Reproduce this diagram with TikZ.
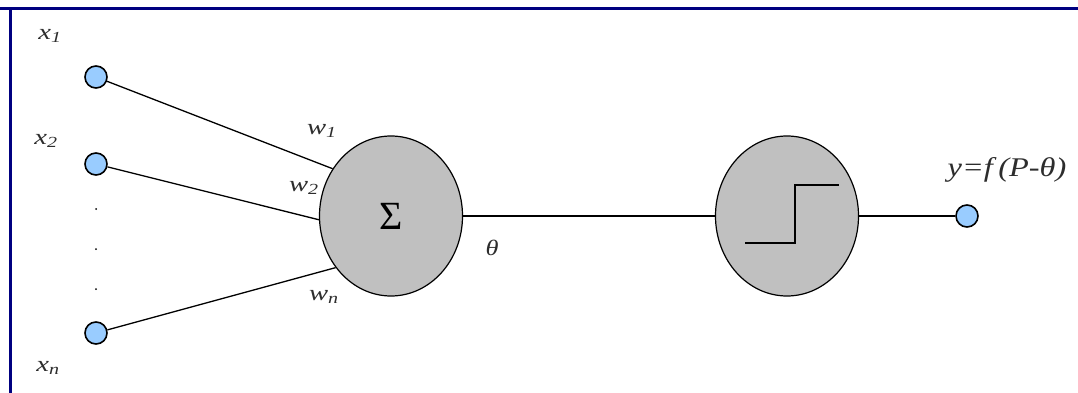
\documentclass[tikz,border=0pt]{standalone}
\usepackage{fontspec}
\setmainfont{Liberation Serif}
\usepackage{graphicx}
\usetikzlibrary{shapes.geometric}

\definecolor{frameblue}{RGB}{0,0,128}
\definecolor{inblue}{RGB}{153,204,255}
\definecolor{cellgray}{RGB}{192,192,192}
\definecolor{labgray}{RGB}{45,45,45}

\newcommand{\wlab}[2]{\scalebox{1.3}[1]{\textit{#1}\textsubscript{\textit{#2}}}}

\begin{document}
\begin{tikzpicture}[x=1pt,y=-1pt,
        inpt/.style={circle, draw, line width=1.6pt, fill=inblue, minimum size=22pt, inner sep=0pt},
        cell/.style={ellipse, draw, line width=1.2pt, fill=cellgray, minimum width=143pt, minimum height=160pt, inner sep=0pt},
        lbl/.style={text=labgray, inner sep=0pt, font=\fontsize{22}{22}\selectfont}]
        \useasboundingbox (0,0) rectangle (1078,393);

        % frame
        \fill[frameblue] (0,7) rectangle (1078,10);
        \fill[frameblue] (9,7) rectangle (11.5,393);

        % inputs
        \node[inpt] (x1) at (96,77) {};
        \node[inpt] (x2) at (96,164) {};
        \node[inpt] (xn) at (96,333) {};
        \fill (96,209) circle (1pt);
        \fill (96,249) circle (1pt);
        \fill (96,289) circle (1pt);

        \node[lbl] (lx1) at (50,36) {\wlab{x}{1}};
        \node[lbl] (lx2) at (46,141) {\wlab{x}{2}};
        \node[lbl] (lxn) at (48,368) {\wlab{x}{n}};

        % summation and step
        \node[cell] (sum) at (391,216) {\fontsize{40}{40}\selectfont Σ};
        \node[cell] (step) at (787,216) {};
        \draw[line width=1.4pt, shift={(step.center)}] (-42,27) -- (8,27) -- (8,-31) -- (52,-31);

        \node[inpt] (yout) at (967,216) {};

        % connections
        \draw[line width=1.3pt] (x1) -- (sum.141);
        \draw[line width=1.3pt] (x2) -- (sum.183);
        \draw[line width=1.3pt] (xn) -- (sum.223);
        \draw[line width=1.3pt] (sum.east) -- (step.west);
        \draw[line width=1.3pt] (step.east) -- (yout);

        \node[lbl] (lw1) at (322,131) {\wlab{w}{1}};
        \node[lbl] (lw2) at (304,188) {\wlab{w}{2}};
        \node[lbl] (lwn) at (324,297) {\wlab{w}{n}};
        \node[lbl] (lth) at (492,248) {\scalebox{1.2}[1]{\textit{θ}}};
        \node[lbl, font=\fontsize{27}{27}\selectfont] (ly) at (1007,170) {\scalebox{1.2}[1]{\textit{y=f\,(P-θ)}}};

    \end{tikzpicture}
\end{document}
